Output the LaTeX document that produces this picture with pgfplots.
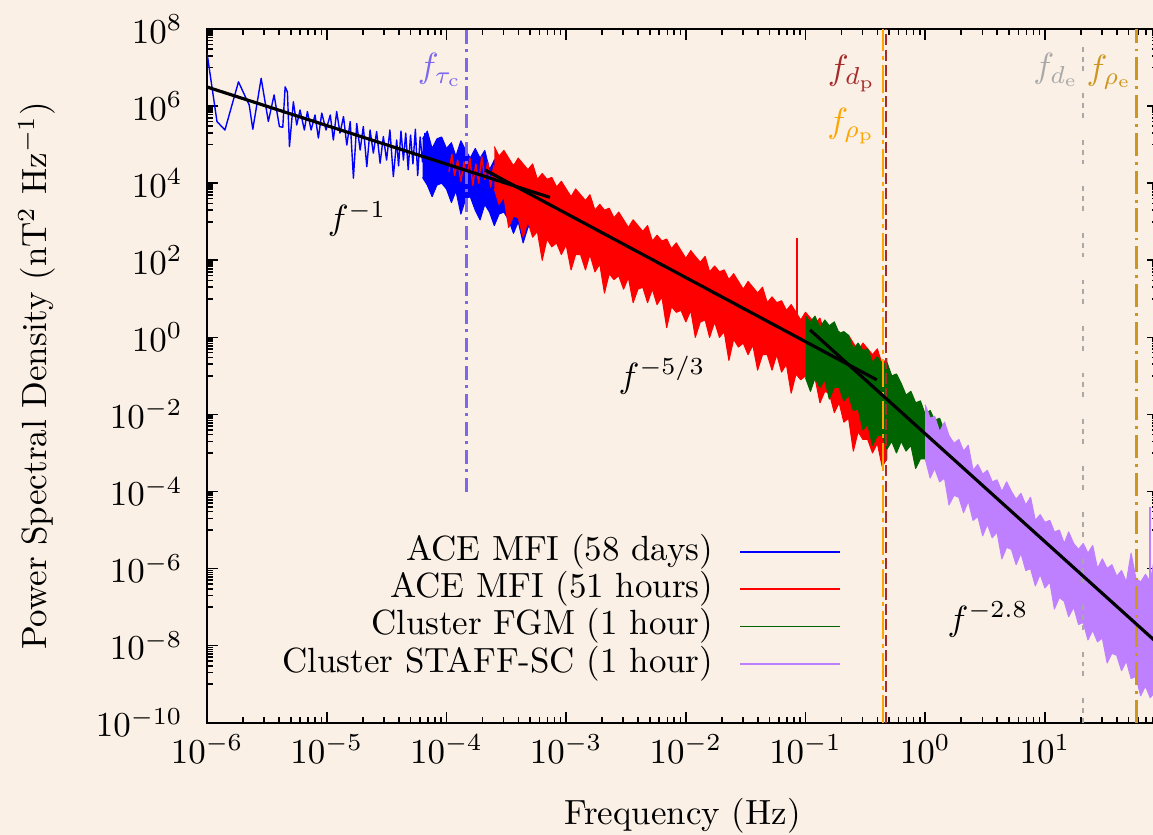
\documentclass[border=0pt]{standalone}
\usepackage{pgfplots}
\pgfplotsset{compat=1.18}
\usetikzlibrary{backgrounds}
\definecolor{bgc}{RGB}{250,240,230}
\definecolor{cblue}{RGB}{0,0,255}
\definecolor{cred}{RGB}{255,0,0}
\definecolor{cgreen}{RGB}{0,100,0}
\definecolor{cpurple}{RGB}{191,128,255}
\definecolor{cslate}{RGB}{123,104,238}
\definecolor{cbrown}{RGB}{165,42,42}
\definecolor{corange}{RGB}{255,165,0}
\definecolor{cgray}{RGB}{169,169,169}
\definecolor{cgold}{RGB}{205,150,30}
\begin{document}
\begin{tikzpicture}
\begin{axis}[
  name=ax, scale only axis, width=271.8pt, height=198.3pt,
  xmode=log, ymode=log, xmin=1e-6, xmax=87.9, ymin=1e-10, ymax=1e8,
  xtick={1e-6,1e-5,1e-4,1e-3,1e-2,1e-1,1,10},
  ytick={1e-10,1e-8,1e-6,1e-4,1e-2,1,1e2,1e4,1e6,1e8},
  minor xtick={2e-6,3e-6,4e-6,5e-6,6e-6,7e-6,8e-6,9e-6,2e-5,3e-5,4e-5,5e-5,6e-5,7e-5,8e-5,9e-5,2e-4,3e-4,4e-4,5e-4,6e-4,7e-4,8e-4,9e-4,2e-3,3e-3,4e-3,5e-3,6e-3,7e-3,8e-3,9e-3,2e-2,3e-2,4e-2,5e-2,6e-2,7e-2,8e-2,9e-2,0.2,0.3,0.4,0.5,0.6,0.7,0.8,0.9,2,3,4,5,6,7,8,9,20,30,40,50,60,70,80},
  minor ytick={1e-9,2e-9,3e-9,4e-9,5e-9,6e-9,7e-9,8e-9,9e-9,1e-7,2e-7,3e-7,4e-7,5e-7,6e-7,7e-7,8e-7,9e-7,1e-5,2e-5,3e-5,4e-5,5e-5,6e-5,7e-5,8e-5,9e-5,1e-3,2e-3,3e-3,4e-3,5e-3,6e-3,7e-3,8e-3,9e-3,0.1,0.2,0.3,0.4,0.5,0.6,0.7,0.8,0.9,10,20,30,40,50,60,70,80,90,1e3,2e3,3e3,4e3,5e3,6e3,7e3,8e3,9e3,1e5,2e5,3e5,4e5,5e5,6e5,7e5,8e5,9e5,1e7,2e7,3e7,4e7,5e7,6e7,7e7,8e7,9e7},
  tick align=inside, tick pos=both,
  major tick length=3.1pt, minor tick length=1.6pt,
  every tick/.style={black, line width=0.45pt},
  axis line style={line width=0.6pt},
  yticklabel style={xshift=-3.5pt},
  xlabel={Frequency (Hz)},
  ylabel={Power Spectral Density (nT$^2$ Hz$^{-1}$)},
  xlabel style={at={(axis description cs:0.5,-0.134)}, anchor=center},
  ylabel style={at={(axis description cs:-0.179,0.5)}, anchor=center},
  no markers,
  every axis plot/.append style={line join=round},
  legend style={at={(axis description cs:0.6667,0.1655)}, anchor=east, draw=none, fill=none,
    inner sep=0pt, outer sep=0pt, row sep=0.66pt, column sep=7.4pt,
    nodes={inner sep=0pt, text height=7.4pt, text depth=2.6pt}},
  legend cell align=right,
  legend plot pos=right,
  legend image code/.code={\draw[#1, fill=none, line width=0.5pt] (0pt,0pt) -- (28.6pt,0pt);},
]
% ACE MFI 58 days: low-frequency trace
\addplot[cblue, line width=0.4pt] coordinates {
(1.00e-6,2.34e7) (1.21e-6,3.98e5) (1.41e-6,2.40e5) (1.83e-6,4.27e6) (2.09e-6,1.74e6) (2.25e-6,1.07e6)
(2.41e-6,2.51e5) (2.83e-6,5.25e6) (3.25e-6,3.98e5) (3.63e-6,1.95e6) (4.02e-6,2.95e5) (4.29e-6,2.82e5)
(4.49e-6,3.16e6) (4.69e-6,2.34e6) (4.88e-6,8.91e4) (5.26e-6,1.29e6) (5.61e-6,3.24e5) (5.98e-6,7.94e5)
(6.50e-6,2.40e5) (6.89e-6,7.24e5) (7.40e-6,2.40e5) (7.98e-6,5.89e5) (8.51e-6,1.48e5) (9.08e-6,6.61e5)
(9.86e-6,2.40e5) (1.07e-5,5.89e5) (1.135e-5,1.32e5) (1.21e-5,7.24e5) (1.29e-5,2.00e5) (1.38e-5,5.37e5)
(1.47e-5,9.77e4) (1.57e-5,3.98e5) (1.67e-5,1.35e4) (1.78e-5,3.55e5) (1.90e-5,7.24e4) (2.02e-5,2.95e5)
(2.16e-5,2.69e4) (2.30e-5,2.40e5) (2.45e-5,6.03e4) (2.61e-5,2.19e5) (2.79e-5,3.31e4) (2.97e-5,1.62e5)
(3.16e-5,3.98e4) (3.37e-5,2.40e5) (3.60e-5,1.48e4) (3.84e-5,1.32e5) (3.98e-5,2.82e4) (4.17e-5,2.24e5)
(4.37e-5,3.98e4) (4.57e-5,2.00e5) (4.79e-5,2.24e4) (5.01e-5,1.78e5) (5.25e-5,3.16e4) (5.50e-5,2.51e5)
(5.75e-5,1.58e4) (6.03e-5,1.58e5) (6.31e-5,3.55e4) (6.61e-5,2.00e5)};
\addlegendentry{ACE MFI (58 days)}
% ACE MFI 58 days: dense band (upper edge, then lower edge)
\addplot[cblue, fill=cblue, line width=0.3pt, forget plot] coordinates {
(6.31e-5,1.41e5) (6.92e-5,2.24e5) (7.59e-5,7.94e4) (8.32e-5,1.41e5)
(9.12e-5,1.58e5) (1.00e-4,7.94e4) (1.10e-4,1.12e5) (1.20e-4,5.01e4) (1.32e-4,1.26e5) (1.45e-4,7.08e4)
(1.58e-4,4.47e4) (1.74e-4,7.94e4) (1.91e-4,4.47e4) (2.09e-4,7.08e4) (2.29e-4,2.24e4) (2.51e-4,3.98e4)
(2.75e-4,5.01e4) (3.02e-4,2.51e4) (3.31e-4,3.55e4) (3.63e-4,1.58e4) (3.98e-4,3.55e4) (4.37e-4,2.00e4)
(4.79e-4,1.26e4) (5.25e-4,1.78e4)
(5.25e-4,1.00e3) (4.79e-4,7.08e2) (4.37e-4,2.82e2) (3.98e-4,1.00e3) (3.63e-4,5.01e2) (3.31e-4,1.12e3)
(3.02e-4,1.78e3) (2.75e-4,1.58e3) (2.51e-4,7.94e2) (2.29e-4,1.78e3) (2.09e-4,2.82e3) (1.91e-4,1.12e3)
(1.74e-4,2.00e3) (1.58e-4,4.47e3) (1.45e-4,3.98e3) (1.32e-4,1.58e3) (1.20e-4,6.31e3) (1.10e-4,3.16e3)
(1.00e-4,7.08e3) (9.12e-5,1.00e4) (8.32e-5,8.91e3) (7.59e-5,4.47e3) (6.92e-5,8.91e3) (6.31e-5,1.41e4)};
% ACE MFI 51 hours: low-frequency trace
\addplot[cred, line width=0.4pt] coordinates {
(1.05e-4,2.00e4) (1.11e-4,5.62e4) (1.17e-4,1.58e4) (1.24e-4,3.98e4) (1.32e-4,1.12e4) (1.40e-4,3.55e4)
(1.48e-4,1.41e4) (1.57e-4,4.47e4) (1.66e-4,8.91e3) (1.76e-4,3.16e4) (1.86e-4,1.00e4) (1.97e-4,5.01e4)
(2.09e-4,1.26e4) (2.21e-4,3.55e4) (2.34e-4,7.94e3) (2.48e-4,2.82e4) (2.63e-4,1.00e4)};
\addlegendentry{ACE MFI (51 hours)}
% ACE MFI 51 hours: dense band
\addplot[cred, fill=cred, line width=0.3pt, forget plot] coordinates {
(2.51e-4,8.91e4) (2.75e-4,5.01e4) (3.02e-4,7.08e4) (3.31e-4,4.47e4) (3.63e-4,2.82e4) (3.98e-4,4.47e4)
(4.37e-4,3.16e4) (4.79e-4,2.24e4) (5.25e-4,3.16e4) (5.75e-4,1.26e4) (6.31e-4,1.78e4) (6.92e-4,1.26e4)
(7.59e-4,1.41e4) (8.32e-4,7.94e3) (9.12e-4,1.12e4) (1.00e-3,7.08e3) (1.10e-3,4.47e3) (1.20e-3,7.08e3)
(1.32e-3,5.01e3) (1.45e-3,3.55e3) (1.58e-3,5.01e3) (1.74e-3,2.00e3) (1.91e-3,2.82e3) (2.09e-3,2.00e3)
(2.29e-3,2.24e3) (2.51e-3,1.26e3) (2.75e-3,1.78e3) (3.02e-3,1.12e3) (3.31e-3,7.08e2) (3.63e-3,1.12e3)
(3.98e-3,7.94e2) (4.37e-3,5.62e2) (4.79e-3,7.94e2) (5.25e-3,3.16e2) (5.75e-3,4.47e2) (6.31e-3,3.16e2)
(6.92e-3,3.55e2) (7.59e-3,2.00e2) (8.32e-3,2.82e2) (9.12e-3,1.78e2) (1.00e-2,1.12e2) (1.10e-2,1.78e2)
(1.20e-2,1.26e2) (1.32e-2,8.91e1) (1.45e-2,1.26e2) (1.58e-2,5.01e1) (1.74e-2,7.08e1) (1.91e-2,5.01e1)
(2.09e-2,5.62e1) (2.29e-2,3.16e1) (2.51e-2,4.47e1) (2.75e-2,2.82e1) (3.02e-2,1.78e1) (3.31e-2,2.82e1)
(3.63e-2,2.00e1) (3.98e-2,1.41e1) (4.37e-2,2.00e1) (4.79e-2,7.94) (5.25e-2,1.12e1) (5.75e-2,7.94)
(6.31e-2,8.91) (6.92e-2,5.01) (7.59e-2,7.08) (8.32e-2,4.47) (9.12e-2,2.82) (1.00e-1,4.47)
(1.10e-1,3.16) (1.20e-1,2.24) (1.32e-1,3.16) (1.45e-1,1.26) (1.58e-1,1.78) (1.74e-1,1.26)
(1.91e-1,1.41) (2.09e-1,7.94e-1) (2.29e-1,1.12) (2.51e-1,7.08e-1) (2.75e-1,4.47e-1) (3.02e-1,7.08e-1)
(3.31e-1,5.01e-1) (3.63e-1,3.55e-1) (3.98e-1,5.01e-1) (4.37e-1,2.00e-1) (4.79e-1,2.82e-1)
(4.79e-1,7.08e-4) (4.37e-1,4.47e-4) (3.98e-1,1.78e-3) (3.63e-1,1.00e-3) (3.31e-1,2.24e-3) (3.02e-1,2.24e-3)
(2.75e-1,3.55e-3) (2.51e-1,1.12e-3) (2.29e-1,7.94e-3) (2.09e-1,6.31e-3) (1.91e-1,2.00e-2) (1.74e-1,1.12e-2)
(1.58e-1,3.55e-2) (1.45e-1,3.98e-2) (1.32e-1,2.00e-2) (1.20e-1,8.91e-2) (1.10e-1,4.47e-2) (1.00e-1,1.00e-1)
(9.12e-2,7.94e-2) (8.32e-2,1.12e-1) (7.59e-2,3.55e-2) (6.92e-2,2.00e-1) (6.31e-2,1.26e-1) (5.75e-2,3.55e-1)
(5.25e-2,1.41e-1) (4.79e-2,3.55e-1) (4.37e-2,3.55e-1) (3.98e-2,1.41e-1) (3.63e-2,6.31e-1) (3.31e-2,3.55e-1)
(3.02e-2,7.08e-1) (2.75e-2,5.62e-1) (2.51e-2,8.91e-1) (2.29e-2,2.51e-1) (2.09e-2,1.41) (1.91e-2,1.00)
(1.74e-2,2.51) (1.58e-2,1.00) (1.45e-2,2.82) (1.32e-2,2.51) (1.20e-2,1.00) (1.10e-2,5.01)
(1.00e-2,2.51) (9.12e-3,5.01) (8.32e-3,4.47) (7.59e-3,6.31) (6.92e-3,1.78) (6.31e-3,1.12e1)
(5.75e-3,7.08) (5.25e-3,1.78e1) (4.79e-3,7.94) (4.37e-3,2.00e1) (3.98e-3,1.78e1) (3.63e-3,7.94)
(3.31e-3,3.55e1) (3.02e-3,1.78e1) (2.75e-3,3.98e1) (2.51e-3,3.16e1) (2.29e-3,4.47e1) (2.09e-3,1.41e1)
(1.91e-3,7.94e1) (1.74e-3,5.01e1) (1.58e-3,1.41e2) (1.45e-3,5.62e1) (1.32e-3,1.41e2) (1.20e-3,1.41e2)
(1.10e-3,5.62e1) (1.00e-3,2.51e2) (9.12e-4,1.41e2) (8.32e-4,2.82e2) (7.59e-4,2.24e2) (6.92e-4,3.55e2)
(6.31e-4,1.00e2) (5.75e-4,5.62e2) (5.25e-4,3.98e2) (4.79e-4,1.00e3) (4.37e-4,3.98e2) (3.98e-4,1.26e3)
(3.63e-4,1.41e3) (3.31e-4,7.08e2) (3.02e-4,4.47e3) (2.75e-4,2.82e3) (2.51e-4,7.08e3)};
\addplot[cred, line width=0.4pt, forget plot] coordinates {(8.49e-2,1.0) (8.49e-2,3.8e2)};
% Cluster FGM 1 hour
\addplot[cgreen, fill=cgreen, line width=0.3pt] coordinates {
(1.00e-1,3.55) (1.10e-1,2.51) (1.20e-1,3.55) (1.32e-1,1.78) (1.45e-1,2.82) (1.58e-1,2.00)
(1.74e-1,2.51) (1.91e-1,1.26) (2.09e-1,1.41) (2.29e-1,1.12) (2.51e-1,5.01e-1) (2.75e-1,7.08e-1)
(3.02e-1,4.47e-1) (3.31e-1,5.01e-1) (3.63e-1,2.24e-1) (3.98e-1,3.16e-1) (4.37e-1,2.00e-1) (4.79e-1,2.24e-1)
(5.25e-1,1.00e-1) (5.75e-1,1.12e-1) (6.31e-1,6.31e-2) (6.92e-1,3.16e-2) (7.59e-1,3.98e-2) (8.32e-1,2.00e-2)
(9.12e-1,2.24e-2) (1.00,1.00e-2) (1.10,1.26e-2) (1.20,7.08e-3) (1.32,7.94e-3) (1.45,3.55e-3)
(1.45,5.62e-4) (1.32,2.82e-4) (1.20,6.31e-4) (1.10,3.55e-4) (1.00,7.08e-4) (9.12e-1,7.08e-4)
(8.32e-1,3.98e-4) (7.59e-1,1.58e-3) (6.92e-1,1.12e-3) (6.31e-1,2.00e-3) (5.75e-1,1.00e-3) (5.25e-1,2.00e-3)
(4.79e-1,1.26e-3) (4.37e-1,2.82e-3) (3.98e-1,2.82e-3) (3.63e-1,1.58e-3) (3.31e-1,5.62e-3) (3.02e-1,3.98e-3)
(2.75e-1,1.41e-2) (2.51e-1,1.26e-2) (2.29e-1,3.16e-2) (2.09e-1,2.24e-2) (1.91e-1,5.01e-2) (1.74e-1,5.01e-2)
(1.58e-1,2.51e-2) (1.45e-1,7.94e-2) (1.32e-1,5.01e-2) (1.20e-1,8.91e-2) (1.10e-1,3.98e-2) (1.00e-1,8.91e-2)};
\addlegendentry{Cluster FGM (1 hour)}
% Cluster STAFF-SC 1 hour
\addplot[cpurple, fill=cpurple, line width=0.3pt] coordinates {
(1.00,1.78e-2) (1.10,7.94e-3) (1.20,8.91e-3) (1.32,3.55e-3) (1.45,6.31e-3) (1.58,2.82e-3)
(1.74,1.78e-3) (1.91,2.24e-3) (2.09,1.12e-3) (2.29,1.58e-3) (2.51,3.55e-4) (2.75,5.01e-4)
(3.02,2.82e-4) (3.31,3.55e-4) (3.63,1.78e-4) (3.98,2.00e-4) (4.37,1.00e-4) (4.79,1.78e-4)
(5.25,1.00e-4) (5.75,6.31e-5) (6.31,8.91e-5) (6.92,4.47e-5) (7.59,7.08e-5) (8.32,1.78e-5)
(9.12,2.51e-5) (1.00e1,1.58e-5) (1.10e1,1.78e-5) (1.20e1,8.91e-6) (1.32e1,1.00e-5) (1.45e1,4.47e-6)
(1.58e1,8.91e-6) (1.74e1,4.47e-6) (1.91e1,3.16e-6) (2.09e1,4.47e-6) (2.29e1,2.51e-6) (2.51e1,3.98e-6)
(2.75e1,1.00e-6) (3.02e1,1.78e-6) (3.31e1,1.00e-6) (3.63e1,1.26e-6) (3.98e1,6.31e-7) (4.37e1,8.91e-7)
(4.79e1,4.47e-7) (5.25e1,2.51e-6) (5.75e1,5.62e-7) (6.31e1,4.47e-7) (6.92e1,7.08e-7) (7.59e1,4.47e-7)
(8.32e1,2.24e-6) (9.12e1,2.51e-7)
(9.12e1,1.41e-10) (8.32e1,6.31e-10) (7.59e1,4.47e-10) (6.92e1,8.91e-10) (6.31e1,5.01e-10) (5.75e1,1.58e-9)
(5.25e1,1.41e-9) (4.79e1,3.98e-9) (4.37e1,2.24e-9) (3.98e1,5.62e-9) (3.63e1,6.31e-9) (3.31e1,3.55e-9)
(3.02e1,1.58e-8) (2.75e1,1.26e-8) (2.51e1,2.51e-8) (2.29e1,1.41e-8) (2.09e1,3.98e-8) (1.91e1,3.55e-8)
(1.74e1,1.00e-7) (1.58e1,5.62e-8) (1.45e1,1.41e-7) (1.32e1,1.78e-7) (1.20e1,8.91e-8) (1.10e1,4.47e-7)
(1.00e1,3.16e-7) (9.12,7.08e-7) (8.32,3.55e-7) (7.59,1.00e-6) (6.92,8.91e-7) (6.31,2.51e-6)
(5.75,1.26e-6) (5.25,3.16e-6) (4.79,3.55e-6) (4.37,1.78e-6) (3.98,8.91e-6) (3.63,6.31e-6)
(3.31,1.41e-5) (3.02,7.08e-6) (2.75,2.24e-5) (2.51,1.78e-5) (2.29,5.62e-5) (2.09,2.82e-5)
(1.91,7.08e-5) (1.74,7.94e-5) (1.58,4.47e-5) (1.45,2.24e-4) (1.32,1.78e-4) (1.20,3.98e-4)
(1.10,2.24e-4) (1.00,7.08e-4)};
\addlegendentry{Cluster STAFF-SC (1 hour)}
\addplot[cpurple, line width=0.4pt, forget plot] coordinates {(7.55e1,4.0e-7) (7.55e1,4.0e-5)};
% characteristic frequencies
\addplot[cslate, line width=0.85pt, dash pattern=on 4pt off 1.5pt on 1pt off 1.5pt, forget plot] coordinates {(1.46e-4,1e-4) (1.46e-4,1e8)};
\addplot[corange, line width=0.7pt, dash pattern=on 8pt off 1.5pt on 1pt off 1.5pt, forget plot] coordinates {(0.446,1e-10) (0.446,1e8)};
\addplot[cbrown, line width=0.7pt, dash pattern=on 3.2pt off 1.2pt, forget plot] coordinates {(0.468,1e-10) (0.468,1e8)};
\addplot[cgray, line width=0.6pt, dash pattern=on 1.4pt off 1.4pt on 1.4pt off 1.4pt on 1.4pt off 6.3pt, forget plot] coordinates {(20.9,1e-10) (20.9,1e8)};
\addplot[cgold, line width=0.85pt, dash pattern=on 6.6pt off 1.7pt on 0.8pt off 1.7pt, forget plot] coordinates {(57.8,1e-10) (57.8,1e8)};
% power-law fits
\addplot[black, line width=0.9pt, forget plot] coordinates {(1e-6,3.13e6) (7.33e-4,4.28e3)};
\addplot[black, line width=0.9pt, forget plot] coordinates {(2.10e-4,2.20e4) (0.394,7.89e-2)};
\addplot[black, line width=0.9pt, forget plot] coordinates {(0.109,1.56) (100,7.94e-9)};
% labels
\node[inner sep=0pt] at (axis cs:1.79e-5,1.18e3) {$f^{-1}$};
\node[inner sep=0pt] at (axis cs:6.32e-3,0.106) {$f^{-5/3}$};
\node[inner sep=0pt] at (axis cs:3.35,4.7e-8) {$f^{-2.8}$};
\node[inner sep=0pt, text=cslate] at (axis cs:8.85e-5,8.6e6) {$f_{\tau_\mathrm{c}}$};
\node[inner sep=0pt, anchor=east, text=cbrown] at (axis cs:0.395,7.0e6) {$f_{d_\mathrm{p}}$};
\node[inner sep=0pt, anchor=east, text=corange] at (axis cs:0.39,3.05e5) {$f_{\rho_\mathrm{p}}$};
\node[inner sep=0pt, anchor=east, text=cgray] at (axis cs:19.6,8.6e6) {$f_{d_\mathrm{e}}$};
\node[inner sep=0pt, anchor=east, text=cgold] at (axis cs:54.5,7.7e6) {$f_{\rho_\mathrm{e}}$};
\end{axis}
\pgfresetboundingbox
\path[use as bounding box] ([xshift=-59.2pt,yshift=-32.0pt]ax.south west) rectangle ([xshift=-1.4pt,yshift=8.3pt]ax.north east);
\begin{scope}[on background layer]
\fill[bgc] ([xshift=-59.2pt,yshift=-32.0pt]ax.south west) rectangle ([xshift=-1.4pt,yshift=8.3pt]ax.north east);
\end{scope}
\end{tikzpicture}
\end{document}
